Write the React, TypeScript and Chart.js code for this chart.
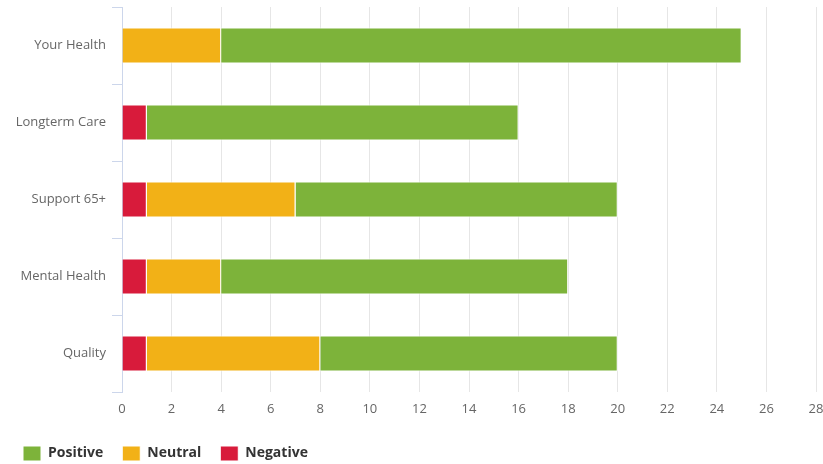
import React, { useEffect, useRef } from "react";
import { Chart, registerables } from "chart.js";

Chart.register(...registerables);

const categories = ["Your Health", "Longterm Care", "Support 65+", "Mental Health", "Quality"];
const negativeValues = [0, 1, 1, 1, 1];
const neutralValues = [4, 0, 6, 3, 7];
const positiveValues = [21, 15, 13, 14, 12];
const xMax = 28;
const xStep = 2;

const FONT = "'Open Sans', sans-serif";

export default function App() {
  const ref = useRef<HTMLCanvasElement | null>(null);

  useEffect(() => {
    if (!ref.current) return;
    const chart = new Chart(ref.current, {
      type: "bar",
      data: {
        labels: categories,
        datasets: [
          { label: "Negative", data: negativeValues, backgroundColor: "#d81b3b", borderColor: "#ffffff", borderWidth: 1 },
          { label: "Neutral", data: neutralValues, backgroundColor: "#f2b117", borderColor: "#ffffff", borderWidth: 1 },
          { label: "Positive", data: positiveValues, backgroundColor: "#7db33a", borderColor: "#ffffff", borderWidth: 1 },
        ],
      },
      options: {
        indexAxis: "y",
        animation: false,
        responsive: false,
        maintainAspectRatio: false,
        layout: { padding: { top: 7, right: 7, left: 4, bottom: 0 } },
        datasets: { bar: { categoryPercentage: 1, barPercentage: 0.47 } },
        scales: {
          x: {
            stacked: true,
            min: 0,
            max: xMax,
            ticks: { stepSize: xStep, color: "#666666", font: { family: FONT, size: 13 }, padding: 9 },
            grid: { color: "#e6e6e6", drawTicks: false },
            border: { display: false },
            afterFit: (s: any) => { s.height = 35; s.paddingLeft = 0; s.paddingRight = 0; },
          },
          y: {
            stacked: true,
            ticks: { color: "#666666", font: { family: FONT, size: 13 }, padding: 6 },
            grid: { drawOnChartArea: false, drawTicks: true, tickLength: 10, color: "#ccd6eb", offset: true },
            border: { display: true, color: "#ccd6eb" },
            afterFit: (s: any) => { s.width = 118; s.paddingTop = 0; s.paddingBottom = 0; },
          },
        },
        plugins: {
          tooltip: { enabled: false },
          legend: {
            position: "bottom",
            align: "start",
            reverse: true,
            maxHeight: 37,
            labels: {
              boxWidth: 18,
              boxHeight: 15,
              padding: 19,
              color: "#333333",
              font: { family: FONT, size: 14, weight: "bold" },
            },
          },
        },
      },
    } as any);
    return () => chart.destroy();
  }, []);

  return (
    <div style={{ position: "fixed", left: 0, top: 0, width: 823, height: 464, overflow: "hidden", background: "#fff" }}>
      <canvas ref={ref} width={823} height={464} style={{ width: 823, height: 464, display: "block" }} />
    </div>
  );
}
